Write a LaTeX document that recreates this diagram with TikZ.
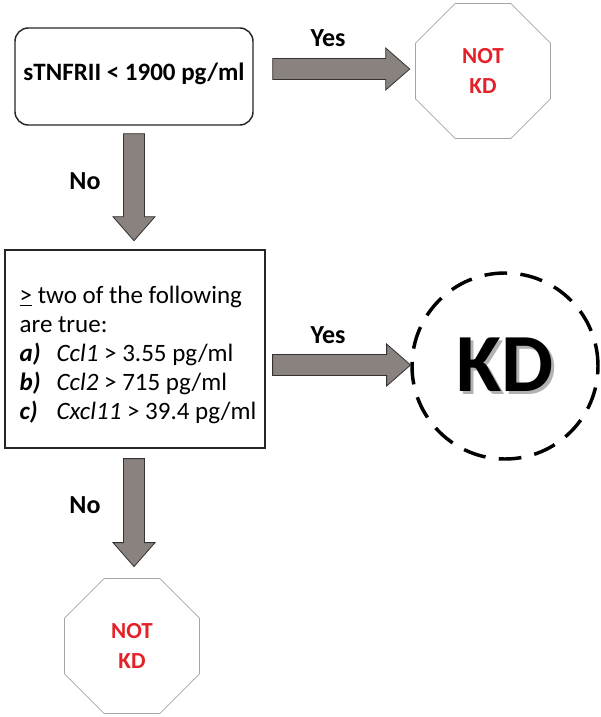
\documentclass[tikz,border=0pt]{standalone}
\usepackage{fontspec}
\setmainfont{Carlito}
\usetikzlibrary{shapes.geometric,calc}

\definecolor{arrowgray}{RGB}{137,130,126}
\definecolor{notred}{RGB}{228,32,40}
\definecolor{stopgray}{RGB}{165,165,165}

\newcommand{\shadowtext}[1]{\rlap{\hspace{2pt}\raisebox{-2.2pt}{\color{black!30}#1}}#1}

\tikzset{
  testbox/.style={draw=black!85, line width=1.1pt, inner sep=0pt},
  stopsign/.style={regular polygon, regular polygon sides=8, draw=stopgray, line width=0.6pt,
    minimum size=109.5pt, inner sep=0pt, text=notred, align=center,
    font=\bfseries\fontsize{17.25}{22.5}\selectfont},
  answer/.style={font=\bfseries\fontsize{19.5}{22}\selectfont},
  pics/blockarrow/.style={code={
    \draw[fill=arrowgray, draw=black!80, line width=0.6pt]
      (0,-10.5) -- ({#1-24},-10.5) -- ({#1-24},-21) -- (#1,0) -- ({#1-24},21) -- ({#1-24},10.5) -- (0,10.5) -- cycle;
  }}
}

\begin{document}
\begin{tikzpicture}[x=0.75pt, y=-0.75pt]
            \useasboundingbox (0,0) rectangle (600,717);
            % first test
            \node (cond1) [testbox, rounded corners=10pt, minimum width=178.5pt, minimum height=72.75pt] at (134,76.5) {};
            \node (cond1txt) [font=\bfseries\fontsize{18.75}{22}\selectfont] at ($(cond1.center)+(0,-3)$) {sTNFRII < 1900 pg/ml};
            \node (stop1) [stopsign] at (483,71) {NOT\\KD};
            \pic at ($(cond1.east)+(19,-7.5)$) {blockarrow=137};
            \node (yes1) [answer] at (328,38) {Yes};
            \pic[rotate=-90] at ($(cond1.south)+(0,8)$) {blockarrow=107};
            \node (no1) [answer] at (85,181) {No};
            % second test
            \node (cond2) [testbox, line width=0.9pt, minimum width=195pt, minimum height=148.5pt] at (135,349) {};
            \node (cond2txt) [anchor=west, align=left, inner sep=0pt,
              font=\fontsize{18.75}{21.75}\selectfont] at ($(cond2.west)+(15,6)$)
              {\underline{>} two of the following\\
               are true:\\
               \makebox[27.75pt][l]{\textbf{\textit{a)}}}\textit{Ccl1} > 3.55 pg/ml\\
               \makebox[27.75pt][l]{\textbf{\textit{b)}}}\textit{Ccl2} > 715 pg/ml\\
               \makebox[27.75pt][l]{\textbf{\textit{c)}}}\textit{Cxcl11} > 39.4 pg/ml};
            \node (kd) [circle, draw, line width=2.6pt, dash pattern=on 17pt off 10pt, minimum size=139.5pt,
              inner sep=0pt, font=\bfseries\fontsize{62}{64}\selectfont] at (505,366) {\shadowtext{KD}};
            \pic at ($(cond2.east)+(7,16)$) {blockarrow=138};
            \node (yes2) [answer] at (328,335) {Yes};
            \pic[rotate=-90] at ($(cond2.south)+(-1,10)$) {blockarrow=108};
            \node (no2) [answer] at (85,505) {No};
            \node (stop2) [stopsign] at (132,646) {NOT\\KD};
\end{tikzpicture}
\end{document}
